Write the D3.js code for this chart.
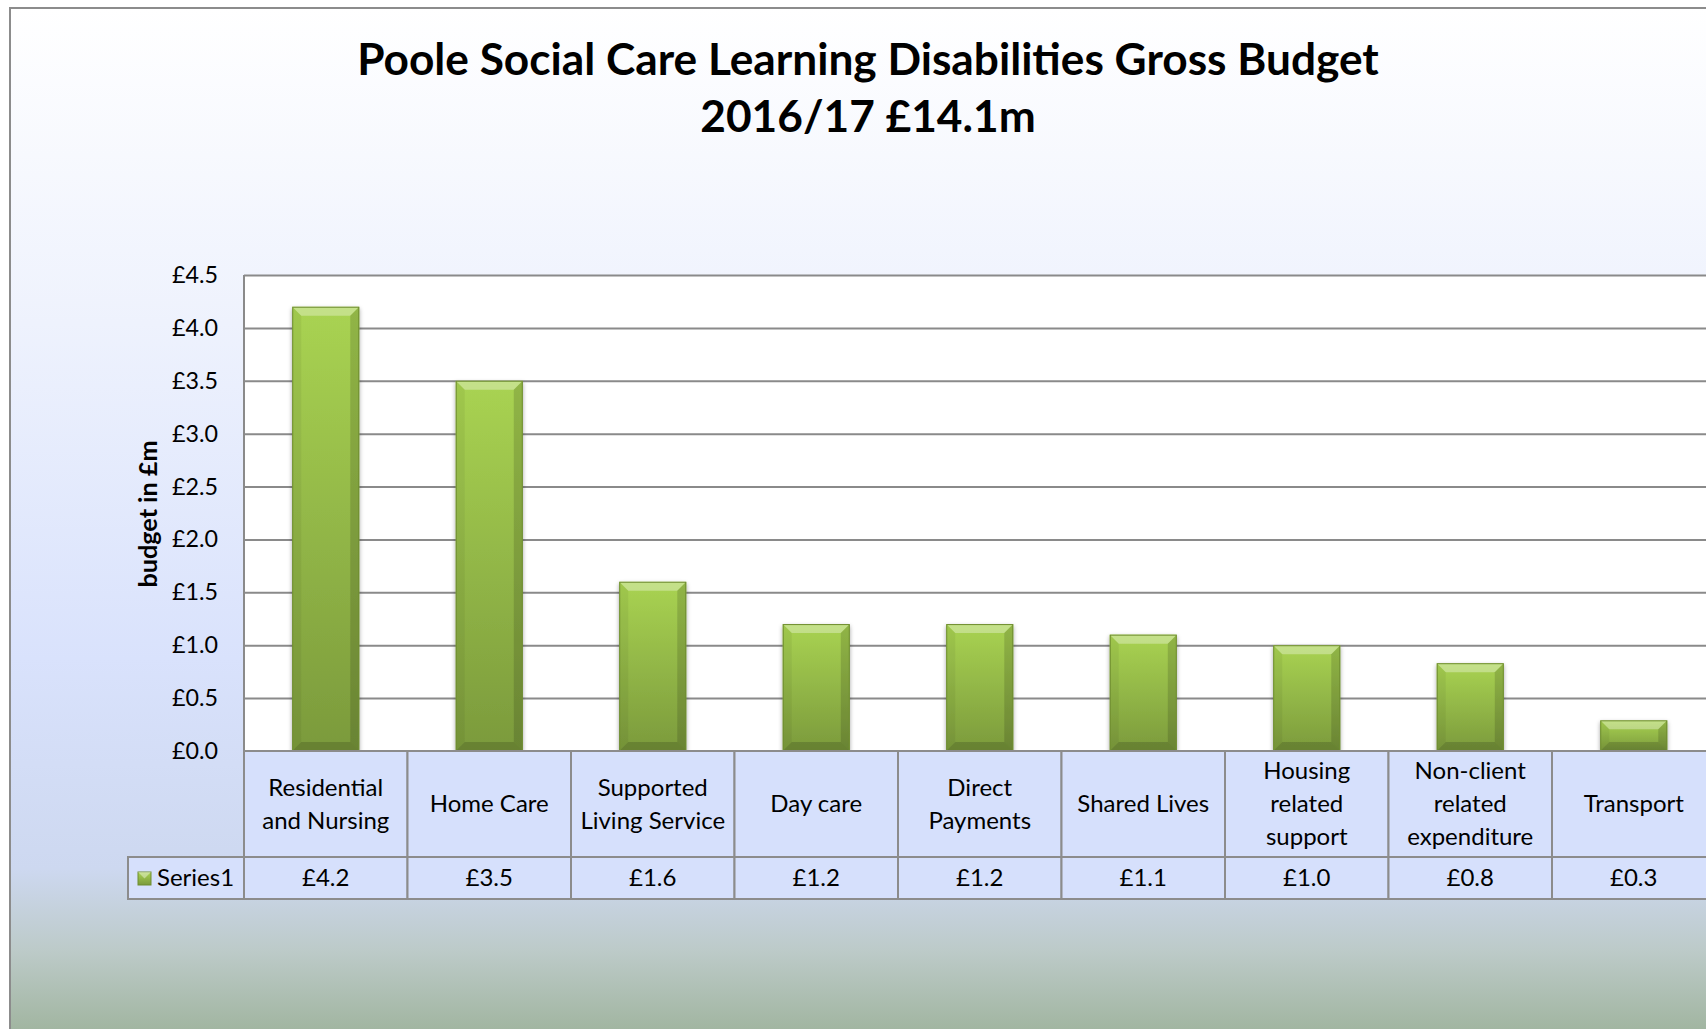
<!DOCTYPE html>
<html>
<head>
<meta charset="utf-8">
<script src="https://cdn.jsdelivr.net/npm/d3@7"></script>
<style>
  html, body { margin: 0; padding: 0; background: #fff; overflow: hidden; }
  svg { display: block; font-family: Lato, "Open Sans", sans-serif; }
</style>
</head>
<body>
<div id="chart"></div>
<script>
// data
const titleLines = ["Poole Social Care Learning Disabilities Gross Budget", "2016/17 £14.1m"];
const categories = [
  ["Residential", "and Nursing"],
  ["Home Care"],
  ["Supported", "Living Service"],
  ["Day care"],
  ["Direct", "Payments"],
  ["Shared Lives"],
  ["Housing", "related", "support"],
  ["Non-client", "related", "expenditure"],
  ["Transport"],
];
const seriesName = "Series1";
const values = [4.2, 3.5, 1.6, 1.2, 1.2, 1.1, 1.0, 0.83, 0.29];
const yTicks = [0, 0.5, 1, 1.5, 2, 2.5, 3, 3.5, 4, 4.5];
const yLabel = "budget in £m";

//size
const width = 1706, height = 1029;
const plot = { left: 244, top: 275, bottom: 751, step: 163.5 };
const table = { labelBottom: 857, rowBottom: 899, legendLeft: 128 };

const svg = d3.select("#chart").append("svg")
  .attr("width", width)
  .attr("height", height);

const defs = svg.append("defs");

// chart background gradient
const bg = defs.append("linearGradient").attr("id", "bg")
  .attr("x1", 0).attr("y1", 0).attr("x2", 0).attr("y2", 1);
[[0, "#ffffff"], [0.3, "#eef2fd"], [0.62, "#d9e2fc"], [0.82, "#cdd8f0"], [0.9, "#bccac8"], [1, "#98ae93"]]
  .forEach(([o, c]) => bg.append("stop").attr("offset", o).attr("stop-color", c));

const barGrad = defs.append("linearGradient").attr("id", "bar")
  .attr("x1", 0).attr("y1", 0).attr("x2", 0).attr("y2", 1);
[[0, "#a9d352"], [1, "#7b9a3c"]]
  .forEach(([o, c]) => barGrad.append("stop").attr("offset", o).attr("stop-color", c));

const shadow = defs.append("filter").attr("id", "shadow")
  .attr("x", "-20%").attr("y", "-20%").attr("width", "140%").attr("height", "140%");
shadow.append("feDropShadow").attr("dx", 0).attr("dy", 2).attr("stdDeviation", 2)
  .attr("flood-color", "#000").attr("flood-opacity", 0.35);

svg.append("rect")
  .attr("x", 10).attr("y", 8)
  .attr("width", width + 20).attr("height", height + 20)
  .attr("fill", "url(#bg)")
  .attr("stroke", "#8c8c8c").attr("stroke-width", 2);

// text fitting helper
function fitSize(text, weight, target) {
  const t = svg.append("text").attr("font-size", 100).attr("font-weight", weight).text(text);
  const len = t.node().getComputedTextLength();
  t.remove();
  return 100 * target / len;
}

//title
const titleSize = fitSize(titleLines[0], "bold", 1022);
svg.append("g")
  .selectAll("text")
  .data(titleLines)
  .join("text")
  .attr("x", 868)
  .attr("y", (d, i) => 60 + i * 57)
  .attr("dy", "0.35em")
  .attr("text-anchor", "middle")
  .attr("font-weight", "bold")
  .attr("font-size", titleSize)
  .text((d) => d);

//scale
const xCell = d3.scaleBand()
  .domain(d3.range(categories.length))
  .range([plot.left, plot.left + plot.step * categories.length]);

const xBar = d3.scaleBand()
  .domain(d3.range(categories.length))
  .range(xCell.range())
  .paddingInner(0.59)
  .paddingOuter(0.295);

const yScale = d3.scaleLinear()
  .domain([0, 4.5])
  .range([plot.bottom, plot.top]);

// plot area
svg.append("rect")
  .attr("x", plot.left).attr("y", plot.top)
  .attr("width", xCell.range()[1] - plot.left)
  .attr("height", plot.bottom - plot.top)
  .attr("fill", "#fff");

//grid
const tickSize = fitSize("£4.5", "normal", 46);
const grid = svg.append("g")
  .attr("transform", `translate(${plot.left},0)`)
  .call(d3.axisLeft(yScale).tickValues(yTicks).tickSize(-(xCell.range()[1] - plot.left)).tickFormat(""));
grid.select(".domain").remove();
grid.selectAll(".tick line").attr("stroke", "#8a8a8a").attr("stroke-width", 2);

svg.append("line")
  .attr("x1", plot.left).attr("x2", plot.left)
  .attr("y1", plot.top).attr("y2", plot.bottom)
  .attr("stroke", "#8a8a8a").attr("stroke-width", 2);

//y-axis labels
const yAxis = svg.append("g")
  .attr("transform", `translate(${218},0)`)
  .call(d3.axisLeft(yScale).tickValues(yTicks).tickSize(0).tickPadding(0)
    .tickFormat((d) => "£" + d.toFixed(1)));
yAxis.select(".domain").remove();
yAxis.selectAll("text")
  .attr("font-family", "Lato, sans-serif")
  .attr("font-size", tickSize)
  .attr("fill", "#000");

const yLabelSize = fitSize(yLabel, "bold", 147);
svg.append("text")
  .attr("transform", `translate(${148},${514}) rotate(-90)`)
  .attr("text-anchor", "middle")
  .attr("dy", "0.35em")
  .attr("font-weight", "bold")
  .attr("font-size", yLabelSize)
  .text(yLabel);

//mark
const bev = 9;
const bars = svg.append("g").attr("class", "mark")
  .selectAll("g")
  .data(values)
  .join("g")
  .attr("filter", "url(#shadow)");

bars.each(function (d, i) {
  const g = d3.select(this);
  const x0 = xBar(i), x1 = x0 + xBar.bandwidth();
  const y0 = yScale(d), y1 = yScale(0);
  const b = Math.min(bev, (y1 - y0) / 3);
  g.append("rect")
    .attr("x", x0).attr("y", y0)
    .attr("width", x1 - x0).attr("height", y1 - y0)
    .attr("fill", "url(#bar)");
  const faces = [
    { p: [[x0, y0], [x1, y0], [x1 - b, y0 + b], [x0 + b, y0 + b]], c: "#fff", o: 0.32 },
    { p: [[x0, y0], [x0 + b, y0 + b], [x0 + b, y1 - b], [x0, y1]], c: "#000", o: 0.05 },
    { p: [[x1, y0], [x1 - b, y0 + b], [x1 - b, y1 - b], [x1, y1]], c: "#000", o: 0.14 },
    { p: [[x0, y1], [x0 + b, y1 - b], [x1 - b, y1 - b], [x1, y1]], c: "#000", o: 0.16 },
  ];
  g.selectAll("path")
    .data(faces)
    .join("path")
    .attr("d", (f) => "M" + f.p.join("L") + "Z")
    .attr("fill", (f) => f.c)
    .attr("fill-opacity", (f) => f.o);
  g.append("rect")
    .attr("x", x0 + 0.5).attr("y", y0 + 0.5)
    .attr("width", x1 - x0 - 1).attr("height", y1 - y0 - 1)
    .attr("fill", "none")
    .attr("stroke", "#6f8d31").attr("stroke-width", 1);
});

//data table
const cellFill = "#d6e0fc";
const lineColor = "#8c8c8c";
const tbl = svg.append("g").attr("class", "table");

tbl.append("rect")
  .attr("x", table.legendLeft).attr("y", table.labelBottom)
  .attr("width", plot.left - table.legendLeft)
  .attr("height", table.rowBottom - table.labelBottom)
  .attr("fill", cellFill).attr("stroke", lineColor).attr("stroke-width", 2);

tbl.selectAll("rect.head")
  .data(categories)
  .join("rect")
  .attr("class", "head")
  .attr("x", (d, i) => xCell(i)).attr("y", plot.bottom)
  .attr("width", xCell.bandwidth())
  .attr("height", table.labelBottom - plot.bottom)
  .attr("fill", cellFill).attr("stroke", lineColor).attr("stroke-width", 2);

tbl.selectAll("rect.val")
  .data(values)
  .join("rect")
  .attr("class", "val")
  .attr("x", (d, i) => xCell(i)).attr("y", table.labelBottom)
  .attr("width", xCell.bandwidth())
  .attr("height", table.rowBottom - table.labelBottom)
  .attr("fill", cellFill).attr("stroke", lineColor).attr("stroke-width", 2);

const catSize = fitSize("Home Care", "normal", 119);
const lineH = 33;
tbl.selectAll("text.cat")
  .data(categories)
  .join("text")
  .attr("class", "cat")
  .attr("text-anchor", "middle")
  .attr("font-size", catSize)
  .each(function (lines, i) {
    const cy = (plot.bottom + table.labelBottom) / 2;
    d3.select(this).selectAll("tspan")
      .data(lines)
      .join("tspan")
      .attr("x", xCell(i) + xCell.bandwidth() / 2)
      .attr("y", (l, j) => cy + (j - (lines.length - 1) / 2) * lineH)
      .attr("dy", "0.35em")
      .text((l) => l);
  });

tbl.selectAll("text.val")
  .data(values)
  .join("text")
  .attr("class", "val")
  .attr("x", (d, i) => xCell(i) + xCell.bandwidth() / 2)
  .attr("y", (table.labelBottom + table.rowBottom) / 2)
  .attr("dy", "0.35em")
  .attr("text-anchor", "middle")
  .attr("font-size", catSize)
  .text((d) => "£" + d.toFixed(1));

// legend key
const rowMid = (table.labelBottom + table.rowBottom) / 2;
const key = tbl.append("g").attr("transform", `translate(${138},${rowMid - 6})`);
key.append("rect").attr("width", 13).attr("height", 13).attr("fill", "url(#bar)")
  .attr("stroke", "#6f8d31").attr("stroke-width", 1);
key.append("path").attr("d", "M0,0L13,0L6.5,6.5Z").attr("fill", "#fff").attr("fill-opacity", 0.4);
tbl.append("text")
  .attr("x", 157)
  .attr("y", rowMid)
  .attr("dy", "0.35em")
  .attr("font-size", catSize)
  .text(seriesName);
</script>
</body>
</html>
